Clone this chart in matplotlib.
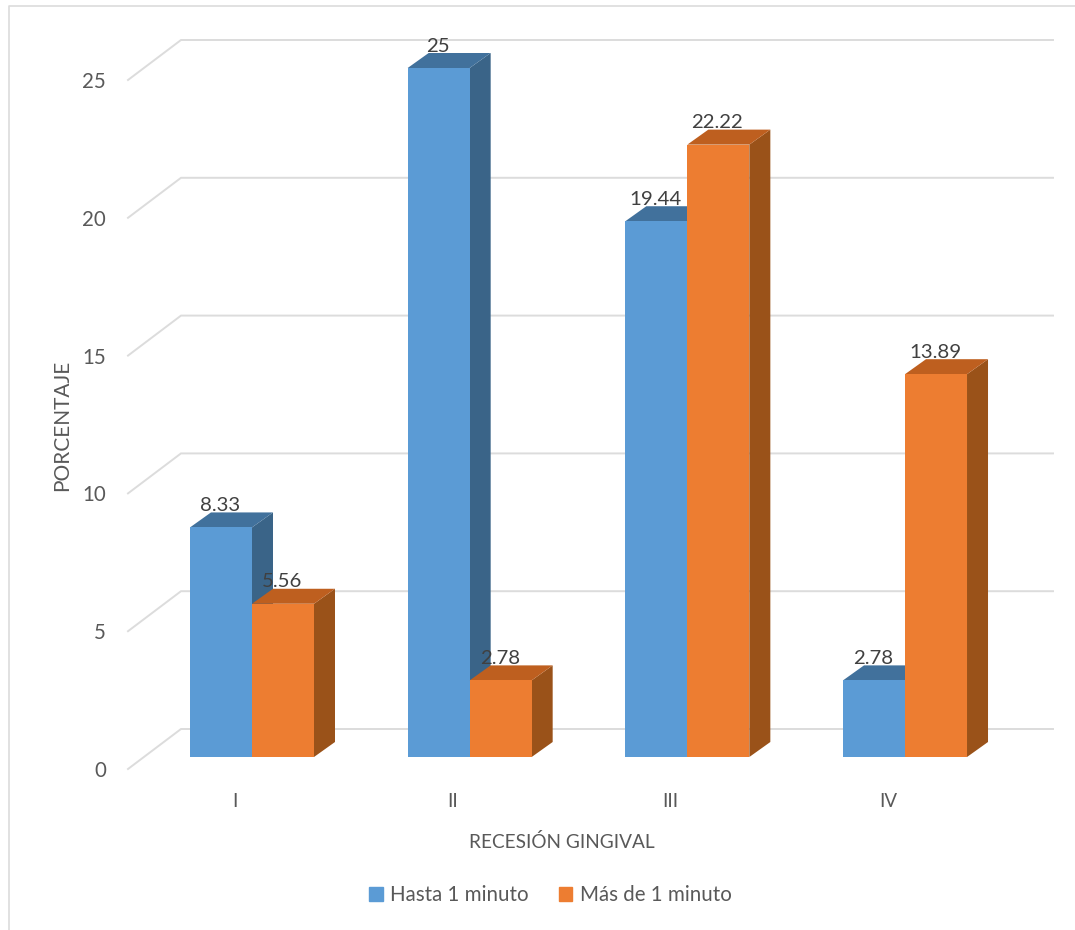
import matplotlib
matplotlib.use("Agg")
import matplotlib.pyplot as plt
from matplotlib.lines import Line2D
from matplotlib.patches import Patch

categories = ["I", "II", "III", "IV"]
hasta = [8.33, 25, 19.44, 2.78]
mas = [5.56, 2.78, 22.22, 13.89]
hasta_labels = ["8.33", "25", "19.44", "2.78"]
mas_labels = ["5.56", "2.78", "22.22", "13.89"]
y_ticks = [0, 5, 10, 15, 20, 25]

plt.rcParams["font.family"] = ["Lato", "DejaVu Sans"]
plt.rcParams["ytick.alignment"] = "center_baseline"
W, H = 1075, 930
fig = plt.figure(figsize=(W / 100, H / 100), dpi=100)

# layout in pixels
L, R, B, T = 128, 1053, 769, 80
ax = fig.add_axes([L / W, 1 - B / H, (R - L) / W, (B - T) / H])
px_x = 217.67
px_y = 27.56
ax.set_xlim((L - 235) / px_x, (R - 235) / px_x)
ax.set_ylim(0, (B - T) / px_y)
for s in ax.spines.values():
    s.set_visible(False)
ax.patch.set_alpha(0)

GRID = "#dcdcdc"
TXT = "#595959"
for v in y_ticks:
    ax.plot([(L - 235) / px_x, (181 - 235) / px_x, (R - 235) / px_x],
            [v, v + 40 / px_y, v + 40 / px_y],
            color=GRID, lw=1.4, clip_on=False, zorder=1, solid_joinstyle="miter")

ax.set_yticks(y_ticks)
ax.set_xticks(range(len(categories)))
ax.set_xticklabels(categories)
ax.tick_params(axis="y", length=0, pad=16, labelsize=14.8, labelcolor=TXT)
ax.tick_params(axis="x", length=0, pad=17, labelsize=13.5, labelcolor=TXT)

bar_w = 62 / px_x
dx = 21 / px_x
dy = 15 / px_y
base = 12 / px_y
off = 17 / px_x


def bar3d(x0, val, front, top, side, z):
    y0, y1 = base, base + val
    x1 = x0 + bar_w
    ax.fill([x1, x1 + dx, x1 + dx, x1], [y0, y0 + dy, y1 + dy, y1], color=side, lw=0, zorder=z, clip_on=False)
    ax.fill([x0, x0 + dx, x1 + dx, x1], [y1, y1 + dy, y1 + dy, y1], color=top, lw=0, zorder=z, clip_on=False)
    ax.bar(x0, val, width=bar_w, bottom=y0, align="edge", color=front, lw=0, zorder=z + 0.1, clip_on=False)


for i in range(len(categories)):
    c = i + off
    bar3d(c - bar_w, hasta[i], "#5B9BD5", "#41719C", "#3A6488", 3 + i)
    bar3d(c, mas[i], "#ED7D31", "#BE5F1F", "#9A5219", 3.5 + i)

for i in range(len(categories)):
    c = i + off
    ax.text(c - bar_w / 2 - 1 / px_x, base + hasta[i] + 22 / px_y, hasta_labels[i], ha="center", va="center",
            fontsize=14.7, color="#404040", zorder=20, clip_on=False)
    ax.text(c + bar_w / 2 - 1 / px_x, base + mas[i] + 22 / px_y, mas_labels[i], ha="center", va="center",
            fontsize=14.7, color="#404040", zorder=20, clip_on=False)

fig.text(62 / W, 1 - 425 / H, "PORCENTAJE", rotation=90, ha="center", va="center", fontsize=15, color=TXT)
fig.text(561.5 / W, 1 - 842 / H, "RECESIÓN GINGIVAL", ha="center", va="center", fontsize=13.7, color=TXT)

handles = [Patch(color="#5B9BD5", label="Hasta 1 minuto"), Patch(color="#ED7D31", label="Más de 1 minuto")]
fig.legend(handles=handles, loc="center", bbox_to_anchor=(550.5 / W, 1 - 895 / H), ncol=2, frameon=False,
           fontsize=14.8, labelcolor=TXT, handlelength=0.64, handleheight=0.64, handletextpad=0.35,
           columnspacing=1.5)

fig.add_artist(Line2D([9 / W, 9 / W, 1], [0, 1 - 6 / H, 1 - 6 / H], color=GRID, lw=1.2))
fig.savefig("out.png", dpi=100)
